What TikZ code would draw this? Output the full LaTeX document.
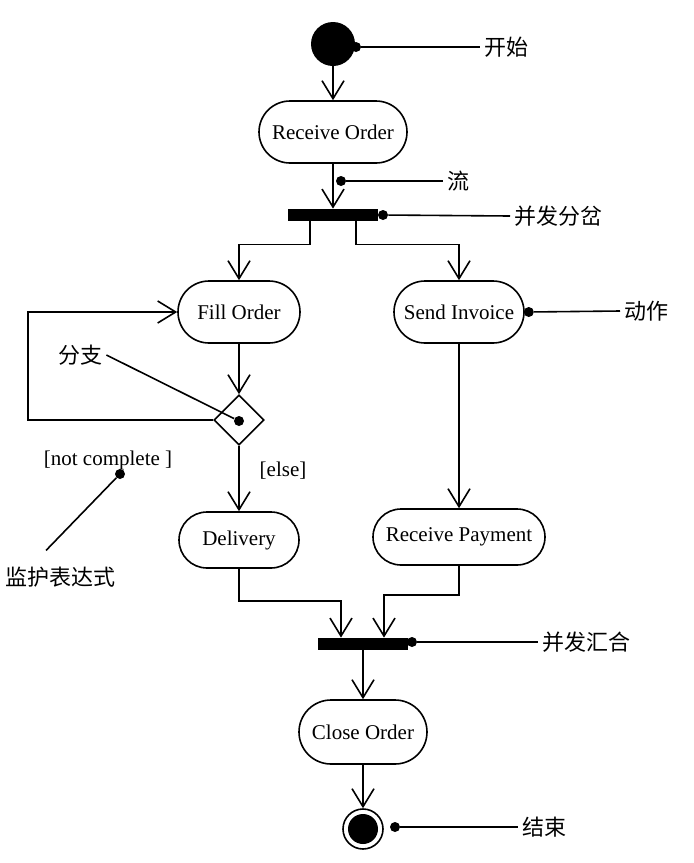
\documentclass[tikz,border=0pt]{standalone}
\usepackage{fontspec}
\setmainfont{Liberation Serif}
\newfontfamily\cjk{Noto Sans CJK SC}
\usetikzlibrary{arrows.meta,shapes.misc,shapes.geometric}

\begin{document}
\begin{tikzpicture}[x=0.5pt,y=-0.5pt,
  action/.style={draw, line width=0.8pt, rounded rectangle, minimum height=31pt, inner xsep=2pt, font=\fontsize{10.5}{12}\selectfont},
  flow/.style={line width=0.8pt, -{Straight Barb[length=9pt,width=11pt,line width=0.8pt]}},
  bar/.style={fill=black, minimum width=45pt, minimum height=6pt, inner sep=0pt},
  dot/.style={circle, fill=black, minimum size=5pt, inner sep=0pt},
  note/.style={font=\cjk\fontsize{11}{13}\selectfont, inner sep=2pt},
  pin/.style={line width=0.8pt}]

\useasboundingbox (0,0) rectangle (693,863);

% les noeuds du flot
\node [circle, fill=black, minimum size=22pt, inner sep=0pt] (start) at (333,44) {};
\node [action, minimum width=78pt] (recv) at (333,132) {Receive Order};
\node [bar] (fork) at (333,215) {};
\node [action, minimum width=65pt] (fill) at (239,312) {Fill Order};
\node [action, minimum width=69pt] (send) at (459,312) {Send Invoice};
\node [diamond, draw, line width=0.8pt, minimum size=25pt, inner sep=0pt] (dec) at (239,420) {};
\node [action, minimum width=64pt, minimum height=28pt] (deliv) at (239,540) {Delivery};
\node [action, minimum width=90pt, minimum height=28pt] (pay) at (459,537) {Receive Payment};
\node [bar] (join) at (363,644) {};
\node [action, minimum width=68pt, minimum height=32pt] (close) at (363,732) {Close Order};
\node [circle, draw, line width=0.8pt, minimum size=20pt, inner sep=0pt] (end) at (363,829) {};
\fill (end.center) circle (7.5pt);

% les fleches
\draw [flow] (start) -- (recv);
\draw [flow] (recv) -- (fork);
\draw [flow] ([xshift=-11.5pt]fork.south) -- ++(0,23) -| (fill.north);
\draw [flow] ([xshift=11.5pt]fork.south) -- ++(0,23) -| (send.north);
\draw [flow] (fill) -- (dec);
\draw [flow] (dec.west) -- ++(-185,0) |- (fill.west);
\draw [flow] (dec) -- (deliv);
\draw [flow] (send) -- (pay);
\draw [flow] (deliv.south) -- ++(0,32) -| ([xshift=-11pt]join.north);
\draw [flow] (pay.south) -- ++(0,29) -| ([xshift=10.5pt]join.north);
\draw [flow] (join) -- (close);
\draw [flow] (close) -- (end);

\node [inner sep=2pt, font=\fontsize{10.5}{12}\selectfont] (guardtxt) at (108,460) {[not complete ]};
\node [inner sep=2pt, font=\fontsize{10.5}{12}\selectfont] (elsetxt) at (283,471) {[else]};

% les annotations
\node [dot] (d1) at (356,47) {};
\node [dot] (d2) at (341,181) {};
\node [dot] (d3) at (383,215) {};
\node [dot] (d4) at ([xshift=2pt]send.east) {};
\node [dot] (d5) at (239,421) {};
\node [dot] (d6) at (120,474) {};
\node [dot] (d7) at (412,642) {};
\node [dot] (d8) at (395,827) {};

\node [note, anchor=west] (n1) at (480,47) {开始};
\node [note, anchor=west] (n2) at (443,181) {流};
\node [note, anchor=west] (n3) at (510,216) {并发分岔};
\node [note, anchor=west] (n4) at (620,311) {动作};
\node [note] (n5) at (80,355) {分支};
\node [note] (n6) at (60,577) {监护表达式};
\node [note, anchor=west] (n7) at (538,642) {并发汇合};
\node [note, anchor=west] (n8) at (518,827) {结束};

\draw [pin] (d1) -- (n1.west);
\draw [pin] (d2) -- (n2.west);
\draw [pin] (d3) -- (n3.west);
\draw [pin] (d4) -- (n4.west);
\draw [pin] (n5.east) -- (d5);
\draw [pin] (d6) -- ([xshift=-7pt,yshift=6pt]n6.north);
\draw [pin] (d7) -- (n7.west);
\draw [pin] (d8) -- (n8.west);

\end{tikzpicture}
\end{document}
